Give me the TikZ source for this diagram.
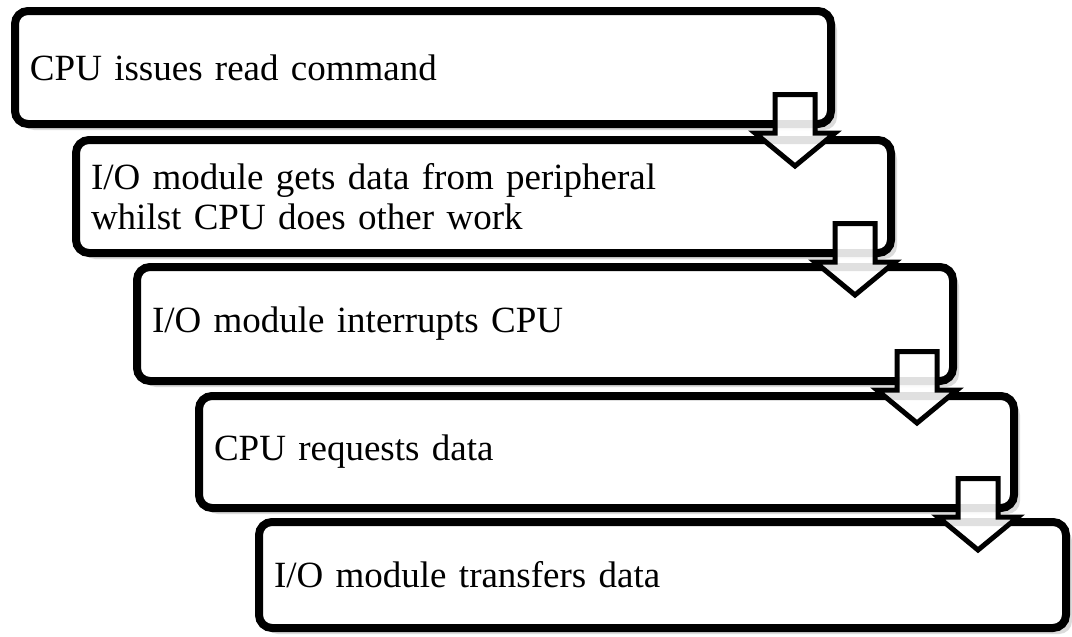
\documentclass[tikz,border=0pt]{standalone}
\usepackage{fontspec}
\setmainfont{Liberation Serif}
\usetikzlibrary{shadows}

\tikzset{
  stepbox/.style={
    draw=black, line width=8pt, fill=white, rounded corners=13pt,
    outer sep=0pt, inner xsep=15pt, inner ysep=0pt, align=left,
    font=\fontsize{37}{40}\selectfont,
    drop shadow={shadow xshift=6pt, shadow yshift=-6pt, fill=black, opacity=0.14}
  },
  flowarrow/.style={
    draw=black, line width=5pt, fill=white, fill opacity=0.88,
    line join=miter, miter limit=10
  }
}

% block arrow hanging from the lower right corner of a box
\newcommand{\downarrowfrom}[1]{%
  \draw[flowarrow, shift={(#1.south east)}]
    (-56,-29.5) -- (-16,-29.5) -- (-16,9) -- (4,9) -- (-36,42)
    -- (-76,9) -- (-56,9) -- cycle;}

\begin{document}
\begin{tikzpicture}[x=1pt, y=-1pt]
\useasboundingbox (0,0) rectangle (1072,637);

\node[stepbox, text width=786pt, minimum height=113pt] (b1) at (423,67.5)
  {CPU issues read command};
\node[stepbox, text width=785pt, minimum height=113pt] (b2) at (483.5,196.5)
  {I/O module gets data from peripheral\\whilst CPU does other work};
\node[stepbox, text width=786pt, minimum height=114pt] (b3) at (545,324)
  {I/O module interrupts CPU};
\node[stepbox, text width=785pt, minimum height=112pt] (b4) at (606.5,452)
  {CPU requests data};
\node[stepbox, text width=777pt, minimum height=106pt] (b5) at (662.5,575)
  {I/O module transfers data};

\downarrowfrom{b1}
\downarrowfrom{b2}
\downarrowfrom{b3}
\downarrowfrom{b4}
\end{tikzpicture}
\end{document}
